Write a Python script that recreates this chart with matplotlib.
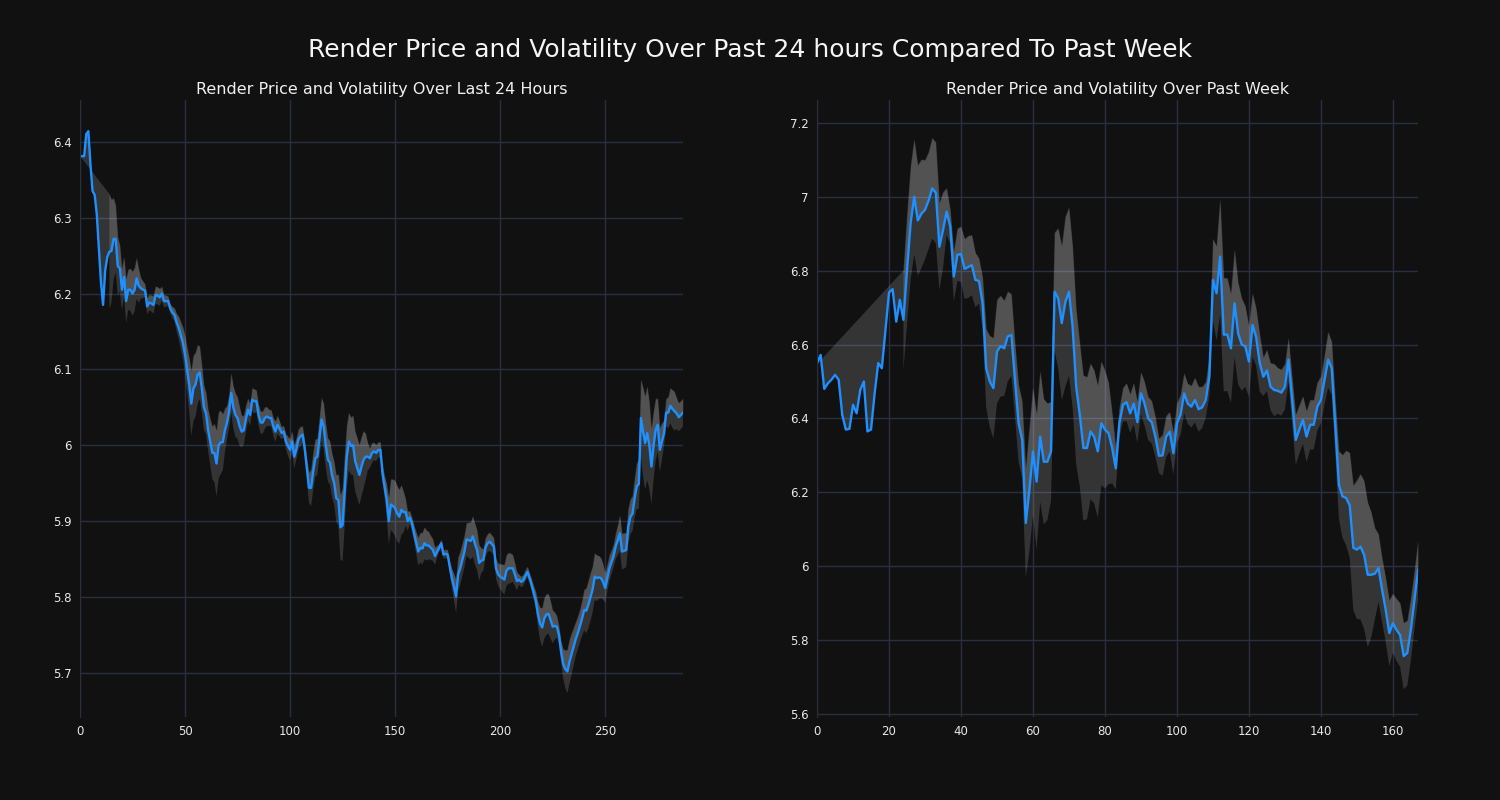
import numpy as np
import pandas as pd
import matplotlib
matplotlib.use("Agg")
import matplotlib.pyplot as plt
from matplotlib.ticker import FuncFormatter

# price over the last 24 hours (5 min steps)
price_24h = [
    6.381, 6.381, 6.381, 6.41, 6.414, 6.37, 6.335, 6.33, 6.305, 6.26,
    6.215, 6.185, 6.23, 6.248, 6.255, 6.256, 6.272, 6.272, 6.236, 6.233,
    6.205, 6.222, 6.19, 6.205, 6.205, 6.20, 6.205, 6.22, 6.21, 6.207,
    6.205, 6.204, 6.183, 6.188, 6.187, 6.185, 6.198, 6.197, 6.195, 6.20,
    6.19, 6.19, 6.19, 6.18, 6.175, 6.172, 6.162, 6.155, 6.145, 6.135,
    6.12, 6.10, 6.08, 6.055, 6.075, 6.08, 6.093, 6.096, 6.075, 6.05,
    6.042, 6.02, 6.005, 5.99, 5.99, 5.976, 6.0, 6.004, 6.004, 6.02,
    6.03, 6.045, 6.069, 6.05, 6.04, 6.036, 6.025, 6.018, 6.02, 6.035,
    6.047, 6.04, 6.06, 6.058, 6.058, 6.04, 6.03, 6.03, 6.036, 6.038,
    6.036, 6.036, 6.025, 6.018, 6.027, 6.022, 6.016, 6.018, 6.005, 5.999,
    5.994, 6.005, 5.985, 5.995, 6.008, 6.012, 6.014, 5.995, 5.97, 5.944,
    5.944, 5.965, 5.983, 5.985, 6.01, 6.034, 6.025, 6.0, 5.981, 5.977,
    5.96, 5.95, 5.93, 5.928, 5.892, 5.895, 5.94, 5.985, 6.005, 5.999,
    6.0, 5.979, 5.97, 5.961, 5.972, 5.981, 5.985, 5.985, 5.983, 5.99,
    5.992, 5.99, 5.994, 5.994, 5.963, 5.945, 5.928, 5.90, 5.922, 5.92,
    5.917, 5.91, 5.906, 5.915, 5.912, 5.912, 5.90, 5.905, 5.897, 5.884,
    5.872, 5.86, 5.865, 5.864, 5.871, 5.868, 5.868, 5.865, 5.862, 5.854,
    5.86, 5.865, 5.871, 5.856, 5.857, 5.856, 5.84, 5.825, 5.814, 5.801,
    5.83, 5.838, 5.849, 5.86, 5.876, 5.875, 5.874, 5.88, 5.87, 5.862,
    5.845, 5.848, 5.849, 5.865, 5.871, 5.873, 5.87, 5.867, 5.838, 5.83,
    5.827, 5.825, 5.823, 5.835, 5.838, 5.838, 5.838, 5.83, 5.821, 5.823,
    5.82, 5.822, 5.828, 5.833, 5.825, 5.816, 5.805, 5.795, 5.777, 5.765,
    5.76, 5.772, 5.777, 5.778, 5.77, 5.761, 5.762, 5.761, 5.75, 5.728,
    5.712, 5.705, 5.702, 5.715, 5.725, 5.735, 5.745, 5.753, 5.762, 5.772,
    5.783, 5.782, 5.79, 5.80, 5.81, 5.827, 5.825, 5.826, 5.825, 5.82,
    5.812, 5.825, 5.838, 5.846, 5.854, 5.867, 5.875, 5.884, 5.86, 5.861,
    5.862, 5.893, 5.906, 5.91, 5.93, 5.946, 5.949, 6.036, 6.018, 6.003,
    6.016, 6.0, 5.972, 5.999, 6.02, 6.027, 5.994, 6.005, 6.016, 6.043,
    6.043, 6.052, 6.048, 6.045, 6.042, 6.037, 6.04, 6.043,
]

# price over the past week (hourly)
price_week = [
    6.55, 6.572, 6.48, 6.495, 6.505, 6.518, 6.505, 6.41, 6.37, 6.372,
    6.437, 6.414, 6.477, 6.50, 6.365, 6.37, 6.468, 6.55, 6.536, 6.64,
    6.741, 6.75, 6.662, 6.721, 6.667, 6.802, 6.929, 7.0, 6.936, 6.954,
    6.965, 6.99, 7.023, 7.011, 6.865, 6.91, 6.96, 6.92, 6.784, 6.843,
    6.845, 6.805, 6.81, 6.815, 6.775, 6.772, 6.712, 6.536, 6.50, 6.482,
    6.581, 6.596, 6.59, 6.622, 6.626, 6.504, 6.387, 6.342, 6.117, 6.207,
    6.311, 6.229, 6.351, 6.283, 6.283, 6.311, 6.743, 6.725, 6.658, 6.716,
    6.743, 6.649, 6.486, 6.41, 6.32, 6.32, 6.365, 6.35, 6.311, 6.387,
    6.37, 6.36, 6.32, 6.265, 6.387, 6.437, 6.444, 6.414, 6.44, 6.39,
    6.468, 6.44, 6.40, 6.39, 6.351, 6.299, 6.30, 6.351, 6.364, 6.306,
    6.387, 6.41, 6.468, 6.44, 6.432, 6.45, 6.425, 6.43, 6.45, 6.513,
    6.775, 6.739, 6.838, 6.627, 6.627, 6.59, 6.712, 6.63, 6.60, 6.595,
    6.554, 6.653, 6.62, 6.55, 6.513, 6.53, 6.486, 6.477, 6.475, 6.47,
    6.486, 6.559, 6.45, 6.342, 6.37, 6.396, 6.351, 6.383, 6.383, 6.432,
    6.45, 6.504, 6.559, 6.536, 6.378, 6.22, 6.189, 6.185, 6.165, 6.05,
    6.045, 6.053, 6.031, 5.977, 5.977, 5.98, 5.995, 5.936, 5.882, 5.819,
    5.846, 5.828, 5.814, 5.757, 5.765, 5.83, 5.91, 5.99,
]

suptitle = "Render Price and Volatility Over Past 24 hours Compared To Past Week"
title_24h = "Render Price and Volatility Over Last 24 Hours"
title_week = "Render Price and Volatility Over Past Week"

bg = "#111111"
grid_c = "#283040"
line_c = "#1e90ff"


def draw(ax, price, window, start, title):
    s = pd.Series(price)
    x = np.arange(len(s))
    vol = s.rolling(window).std()
    vol[:start] = np.nan
    vol[0] = 0.0
    upper = s + vol
    lower = s - vol
    ax.fill_between(x, s, upper.interpolate(), color="white", alpha=0.15, lw=0)
    ax.fill_between(x, lower, upper, color="white", alpha=0.15, lw=0)
    ax.plot(x, s, color=line_c, lw=1.7)
    ax.set_facecolor(bg)
    ax.grid(True, color=grid_c, lw=1)
    ax.set_axisbelow(True)
    for sp in ["top", "right", "bottom"]:
        ax.spines[sp].set_visible(False)
    ax.spines["left"].set_color(grid_c)
    ax.tick_params(colors="#e8e8e8", labelsize=8.5, length=0, pad=6)
    ax.yaxis.set_major_formatter(FuncFormatter(lambda v, p: f"{v:g}"))
    ax.set_title(title, color="#f0f0f0", fontsize=11.5, pad=4)
    ax.set_xlim(0, len(s) - 1)


fig = plt.figure(figsize=(15, 8), dpi=100, facecolor=bg)
ax1 = fig.add_axes([0.0533, 0.10375, 0.402, 0.77125])
ax2 = fig.add_axes([0.5447, 0.10375, 0.4007, 0.77125])

draw(ax1, price_24h, 12, 14, title_24h)
ax1.set_ylim(5.642, 6.455)
ax1.set_yticks([5.7, 5.8, 5.9, 6.0, 6.1, 6.2, 6.3, 6.4])
ax1.set_xticks([0, 50, 100, 150, 200, 250])

draw(ax2, price_week, 12, 24, title_week)
ax2.set_ylim(5.592, 7.262)
ax2.set_yticks([5.6, 5.8, 6.0, 6.2, 6.4, 6.6, 6.8, 7.0, 7.2])
ax2.set_xticks([0, 20, 40, 60, 80, 100, 120, 140, 160])

fig.suptitle(suptitle, color="#f5f5f5", fontsize=18, y=0.953)

fig.savefig("out.png", facecolor=bg)
